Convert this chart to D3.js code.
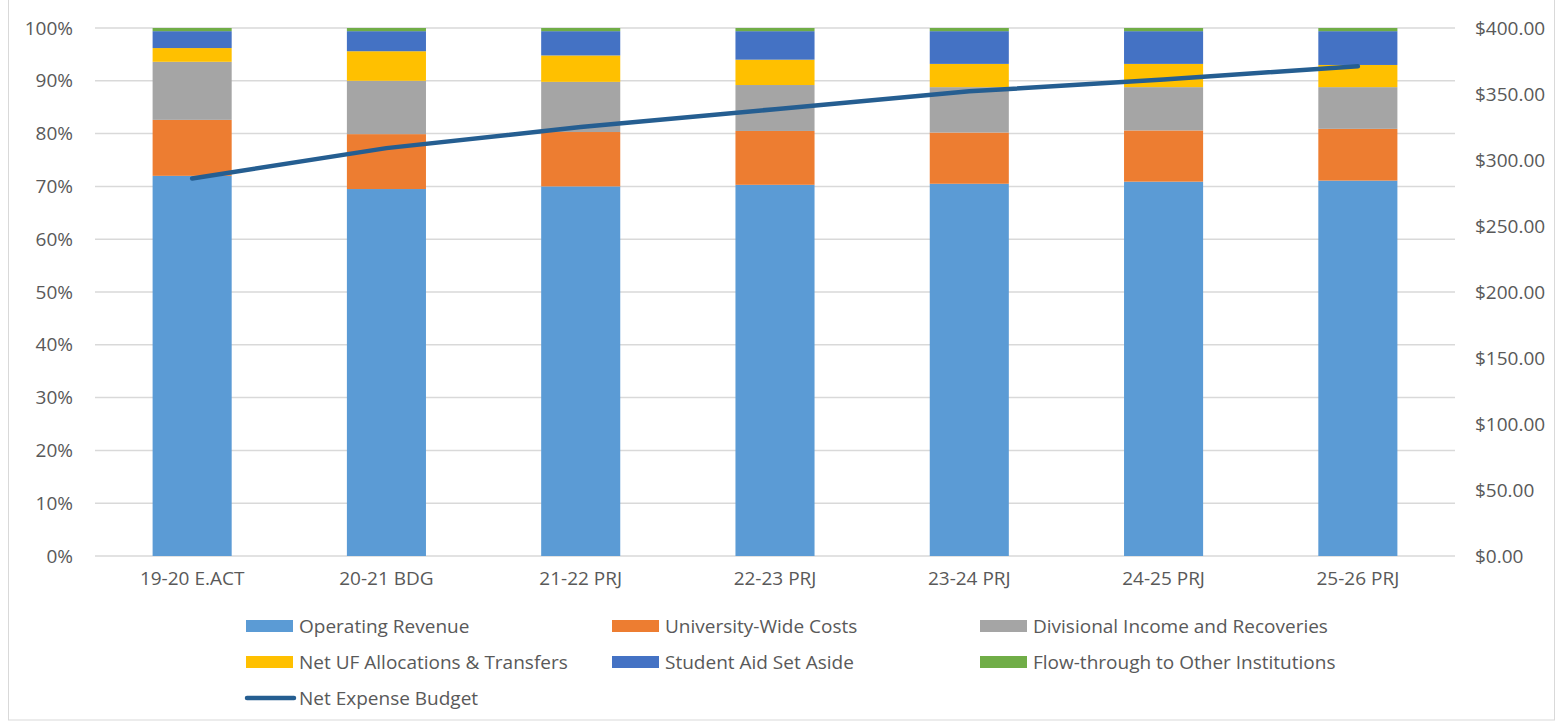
<!DOCTYPE html>
<html>
<head>
<meta charset="utf-8">
<script src="https://cdn.jsdelivr.net/npm/d3@7"></script>
<style>
  body { margin: 0; background: #fff; }
  svg text { font-family: "Open Sans", Lato, sans-serif; fill: #595959; }
</style>
</head>
<body>
<svg id="chart" width="1560" height="725"></svg>
<script>
// categories and series (percent share of each year)
const years = ["19-20 E.ACT", "20-21 BDG", "21-22 PRJ", "22-23 PRJ", "23-24 PRJ", "24-25 PRJ", "25-26 PRJ"];
const seriesNames = ["Operating Revenue", "University-Wide Costs", "Divisional Income and Recoveries",
  "Net UF Allocations & Transfers", "Student Aid Set Aside", "Flow-through to Other Institutions"];
const operatingRevenue = [72.0, 69.5, 70.0, 70.3, 70.5, 70.9, 71.1];
const universityWide   = [10.6, 10.4, 10.3, 10.2, 9.7, 9.7, 9.8];
const divisional       = [11.0, 10.1, 9.5, 8.7, 8.6, 8.2, 7.9];
const netUF            = [2.6, 5.6, 5.0, 4.8, 4.4, 4.4, 4.2];
const studentAid       = [3.2, 3.8, 4.6, 5.4, 6.2, 6.2, 6.4];
const flowThrough      = [0.6, 0.6, 0.6, 0.6, 0.6, 0.6, 0.6];
const netExpense       = [286, 309, 325, 338.5, 352, 361, 371];
const leftTicks = [0, 10, 20, 30, 40, 50, 60, 70, 80, 90, 100];
const rightTicks = [0, 50, 100, 150, 200, 250, 300, 350, 400];

const colors = ["#5B9BD5", "#ED7D31", "#A5A5A5", "#FFC000", "#4472C4", "#70AD47"];
const lineColor = "#255E91";
const fontSize = 19;

const allSeries = [operatingRevenue, universityWide, divisional, netUF, studentAid, flowThrough];
const rows = years.map((yr, i) => {
  const r = { year: yr };
  seriesNames.forEach((s, j) => r[s] = allSeries[j][i]);
  return r;
});

const svg = d3.select("#chart");
const plotLeft = 95, plotRight = 1455, plotTop = 28, plotBottom = 556;

// frame
svg.append("rect").attr("x", 8.5).attr("y", -1).attr("width", 1546).attr("height", 721)
  .attr("fill", "none").attr("stroke", "#d9d9d9").attr("stroke-width", 1);

const x = d3.scaleBand().domain(years).range([plotLeft, plotRight]).paddingInner(0.593).paddingOuter(0.2965);
const y = d3.scaleLinear().domain([0, 100]).range([plotBottom, plotTop]);
const y2 = d3.scaleLinear().domain([0, 400]).range([plotBottom, plotTop]);

// gridlines
svg.append("g").selectAll("line").data(leftTicks).join("line")
  .attr("x1", plotLeft).attr("x2", plotRight)
  .attr("y1", d => y(d)).attr("y2", d => y(d))
  .attr("stroke", "#d9d9d9").attr("stroke-width", 1.5);

// left axis
const yAxis = svg.append("g").attr("transform", `translate(${plotLeft - 22},0)`)
  .call(d3.axisLeft(y).tickValues(leftTicks).tickFormat(d => d + "%").tickSize(0).tickPadding(0));
yAxis.select(".domain").remove();
yAxis.selectAll("text").attr("font-size", fontSize).style("fill", "#595959");

// right axis
const y2Axis = svg.append("g").attr("transform", `translate(${plotRight + 20},0)`)
  .call(d3.axisRight(y2).tickValues(rightTicks).tickFormat(d => "$" + d3.format(".2f")(d)).tickSize(0).tickPadding(0));
y2Axis.select(".domain").remove();
y2Axis.selectAll("text").attr("font-size", fontSize).style("fill", "#595959");

// bottom axis labels
const xAxis = svg.append("g").attr("transform", `translate(0,${plotBottom})`)
  .call(d3.axisBottom(x).tickSize(0).tickPadding(16));
xAxis.select(".domain").remove();
xAxis.selectAll("text").attr("font-size", fontSize).style("fill", "#595959");

// stacked bars
const stack = d3.stack().keys(seriesNames)(rows);
svg.append("g").selectAll("g").data(stack).join("g")
  .attr("fill", (d, i) => colors[i])
  .selectAll("rect").data(d => d).join("rect")
  .attr("x", d => x(d.data.year))
  .attr("width", x.bandwidth())
  .attr("y", d => y(d[1]))
  .attr("height", d => y(d[0]) - y(d[1]));

// line on right axis
const line = d3.line().x((d, i) => x(years[i]) + x.bandwidth() / 2).y(d => y2(d));
svg.append("path").datum(netExpense)
  .attr("d", line).attr("fill", "none")
  .attr("stroke", lineColor).attr("stroke-width", 4.5)
  .attr("stroke-linecap", "round").attr("stroke-linejoin", "round");

// legend
const legendCols = [246, 612, 980];
const legendRows = [626, 662, 698];
const legend = svg.append("g");
seriesNames.forEach((s, i) => {
  const cx = legendCols[i % 3], cy = legendRows[Math.floor(i / 3)];
  legend.append("rect").attr("x", cx).attr("y", cy - 6).attr("width", 47).attr("height", 12).attr("fill", colors[i]);
  legend.append("text").attr("x", cx + 53).attr("y", cy).attr("dy", "0.35em")
    .attr("font-size", fontSize).text(s);
});
legend.append("line").attr("x1", 247).attr("x2", 294)
  .attr("y1", legendRows[2]).attr("y2", legendRows[2])
  .attr("stroke", lineColor).attr("stroke-width", 4.5).attr("stroke-linecap", "round");
legend.append("text").attr("x", 299).attr("y", legendRows[2]).attr("dy", "0.35em")
  .attr("font-size", fontSize).text("Net Expense Budget");
</script>
</body>
</html>
